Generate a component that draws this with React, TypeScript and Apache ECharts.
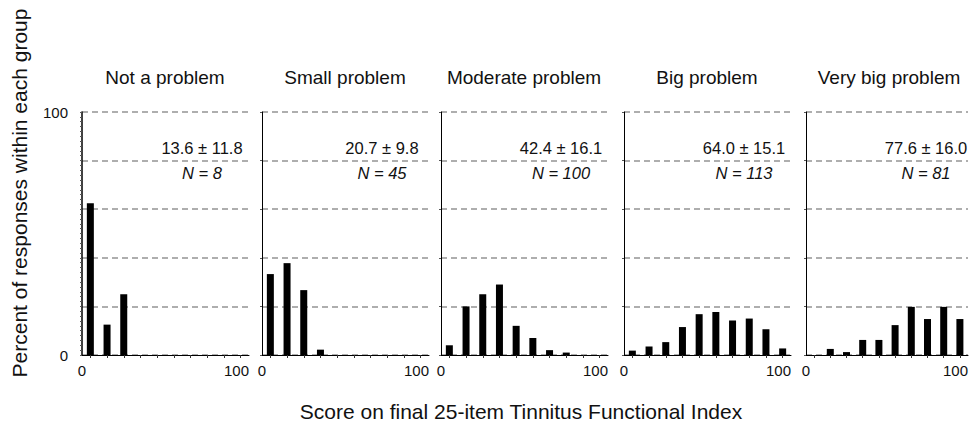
import React, { useEffect, useRef } from "react";
import * as echarts from "echarts";

const groups = ["Not a problem", "Small problem", "Moderate problem", "Big problem", "Very big problem"];
const binCenters = [5, 15, 25, 35, 45, 55, 65, 75, 85, 95];
const notAProblem = [62.5, 12.5, 25, 0, 0, 0, 0, 0, 0, 0];
const smallProblem = [33.3, 37.8, 26.7, 2.2, 0, 0, 0, 0, 0, 0];
const moderateProblem = [4, 20, 25, 29, 12, 7, 2, 1, 0, 0];
const bigProblem = [1.8, 3.5, 5.3, 11.5, 16.8, 17.7, 14.2, 15.0, 10.6, 2.7];
const veryBigProblem = [0, 2.5, 1.2, 6.2, 6.2, 12.3, 19.8, 14.8, 19.8, 14.8];
const seriesValues = [notAProblem, smallProblem, moderateProblem, bigProblem, veryBigProblem];
const means = ["13.6", "20.7", "42.4", "64.0", "77.6"];
const sds = ["11.8", "9.8", "16.1", "15.1", "16.0"];
const ns = ["8", "45", "100", "113", "81"];
const xTickLabels = [0, 100];
const yTickLabels = [0, 100];
const yAxisTitle = "Percent of responses within each group";
const xAxisTitle = "Score on final 25-item Tinnitus Functional Index";

const FONT = "Liberation Sans, Arial, Helvetica, sans-serif";
const gridLefts = [82, 262, 441, 624, 806];
const GRID_W = 167;
const GRID_TOP = 112;
const GRID_H = 243;

export default function App() {
  const ref = useRef<HTMLDivElement>(null);
  useEffect(() => {
    if (!ref.current) return;
    const chart = echarts.init(ref.current, null, { renderer: "svg" });
    const grids = gridLefts.map((l) => ({ left: l, top: GRID_TOP, width: GRID_W, height: GRID_H }));
    const xAxes = gridLefts.map((_, i) => ({
      type: "value",
      gridIndex: i,
      min: 0,
      max: 100,
      axisLine: { show: true, lineStyle: { color: "#000", width: 1 } },
      axisTick: { show: true, customValues: binCenters, length: 3, lineStyle: { color: "#333" } },
      axisLabel: {
        show: true,
        customValues: xTickLabels,
        alignMaxLabel: "right",
        color: "#111",
        fontSize: 15,
        fontFamily: FONT,
        margin: 8,
      },
      splitLine: { show: false },
    }));
    const yAxes = gridLefts.map((_, i) => ({
      type: "value",
      gridIndex: i,
      min: 0,
      max: 100,
      interval: 20,
      axisLine: { show: true, lineStyle: { color: "#000", width: i === 0 ? 1.5 : 1 } },
      axisTick: { show: true, length: 2, lineStyle: { color: "#555" } },
      minorTick: i === 0 ? { show: true, splitNumber: 10, length: 2, lineStyle: { color: "#555" } } : { show: false },
      axisLabel: {
        show: i === 0,
        color: "#111",
        fontSize: 15,
        fontFamily: FONT,
        margin: 14,
        formatter: (v: number) => (yTickLabels.includes(v) ? String(v) : ""),
      },
      splitLine: {
        show: true,
        lineStyle: { color: "#949494", width: 1.6, type: [6, 4] },
      },
    }));
    const series = seriesValues.map((vals, i) => ({
      type: "bar",
      name: groups[i],
      xAxisIndex: i,
      yAxisIndex: i,
      barWidth: 7,
      itemStyle: { color: "#000" },
      data: binCenters.map((c, j) => [c, vals[j]]),
    }));
    const graphics: any[] = [];
    gridLefts.forEach((l, i) => {
      graphics.push({
        type: "text",
        x: l + 83,
        y: 77,
        style: { text: groups[i], fill: "#111", font: `19px ${FONT}`, textAlign: "center", textVerticalAlign: "middle" },
      });
      graphics.push({
        type: "text",
        x: l + 120,
        y: 148,
        style: { text: `${means[i]} ± ${sds[i]}`, fill: "#111", font: `16.5px ${FONT}`, textAlign: "center", textVerticalAlign: "middle" },
      });
      graphics.push({
        type: "text",
        x: l + 120,
        y: 173,
        style: { text: `N = ${ns[i]}`, fill: "#111", font: `italic 16.5px ${FONT}`, textAlign: "center", textVerticalAlign: "middle" },
      });
    });
    graphics.push({
      type: "text",
      x: 19,
      y: 193,
      rotation: Math.PI / 2,
      style: { text: yAxisTitle, fill: "#111", font: `21px ${FONT}`, textAlign: "center", textVerticalAlign: "middle" },
    });
    graphics.push({
      type: "text",
      x: 521,
      y: 411,
      style: { text: xAxisTitle, fill: "#111", font: `21px ${FONT}`, textAlign: "center", textVerticalAlign: "middle" },
    });
    chart.setOption({
      animation: false,
      backgroundColor: "#fff",
      grid: grids,
      xAxis: xAxes,
      yAxis: yAxes,
      series,
      graphic: graphics,
    });
    return () => chart.dispose();
  }, []);
  return <div ref={ref} style={{ position: "fixed", left: 0, top: 0, width: 971, height: 429 }} />;
}
